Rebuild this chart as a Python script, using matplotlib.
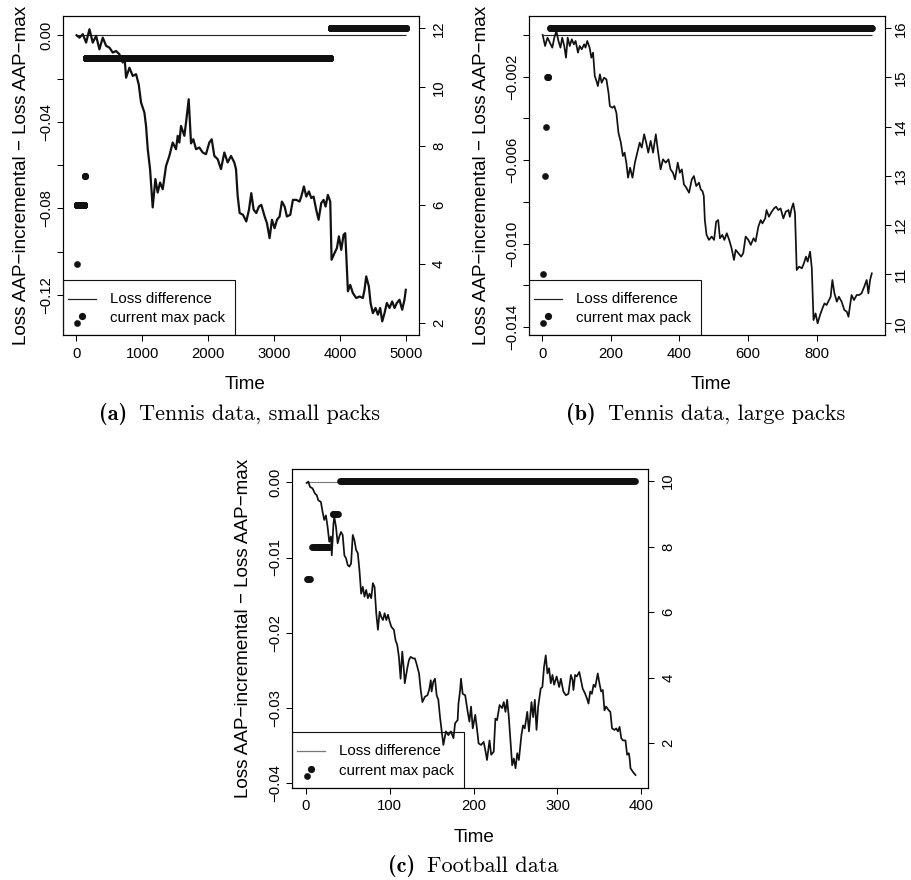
import numpy as np
import matplotlib
matplotlib.use("Agg")
import matplotlib.pyplot as plt
from matplotlib.patches import Rectangle
from matplotlib.lines import Line2D

plt.rcParams['font.family'] = ['Liberation Sans', 'DejaVu Sans']

# ---- (a) tennis data, small packs ----
time_a = [1, 45, 96, 146, 197, 247, 298, 348, 399, 450,
          500, 551, 601, 652, 702, 728, 753, 804, 854, 905,
          945, 980, 1031, 1056, 1082, 1117, 1157, 1198, 1233, 1269,
          1309, 1360, 1410, 1461, 1511, 1537, 1562, 1587, 1638, 1663,
          1704, 1739, 1774, 1815, 1865, 1916, 1966, 2017, 2053, 2093,
          2144, 2194, 2245, 2295, 2346, 2396, 2422, 2447, 2477, 2528,
          2578, 2619, 2654, 2690, 2730, 2770, 2806, 2857, 2892, 2932,
          2968, 3008, 3044, 3084, 3119, 3160, 3195, 3246, 3286, 3337,
          3387, 3413, 3453, 3489, 3529, 3565, 3600, 3640, 3676, 3716,
          3752, 3782, 3817, 3853, 3873, 3918, 3954, 3984, 4020, 4055,
          4080, 4095, 4121, 4156, 4196, 4247, 4298, 4348, 4373, 4399,
          4439, 4465, 4500, 4540, 4576, 4611, 4642, 4677, 4712, 4753,
          4793, 4829, 4864, 4904, 4945, 4980, 5000]
loss_a = [0.0000, -0.0011, 0.0005, -0.0034, 0.0028, -0.0034, -0.0003, -0.0065, -0.0011, -0.0049,
          -0.0057, -0.0080, -0.0073, -0.0088, -0.0126, -0.0096, -0.0196, -0.0150, -0.0188, -0.0180,
          -0.0227, -0.0311, -0.0357, -0.0419, -0.0527, -0.0619, -0.0796, -0.0665, -0.0727, -0.0681,
          -0.0712, -0.0604, -0.0558, -0.0496, -0.0527, -0.0465, -0.0496, -0.0419, -0.0465, -0.0404,
          -0.0296, -0.0500, -0.0481, -0.0527, -0.0519, -0.0542, -0.0550, -0.0496, -0.0481, -0.0558,
          -0.0573, -0.0619, -0.0542, -0.0588, -0.0558, -0.0588, -0.0619, -0.0742, -0.0822, -0.0830,
          -0.0861, -0.0807, -0.0730, -0.0807, -0.0822, -0.0792, -0.0784, -0.0838, -0.0869, -0.0938,
          -0.0853, -0.0892, -0.0853, -0.0838, -0.0769, -0.0792, -0.0838, -0.0830, -0.0761, -0.0761,
          -0.0769, -0.0746, -0.0699, -0.0746, -0.0722, -0.0753, -0.0746, -0.0807, -0.0853, -0.0776,
          -0.0761, -0.0792, -0.0738, -0.0769, -0.1038, -0.1007, -0.0984, -0.0930, -0.0992, -0.0923,
          -0.0915, -0.1007, -0.1184, -0.1154, -0.1192, -0.1215, -0.1208, -0.1215, -0.1177, -0.1115,
          -0.1161, -0.1238, -0.1285, -0.1261, -0.1292, -0.1261, -0.1323, -0.1285, -0.1238, -0.1261,
          -0.1231, -0.1261, -0.1238, -0.1223, -0.1269, -0.1223, -0.1177]
# runs of the current max pack: first step, last step, pack
pack_from_a = [1, 3, 5, 125, 140, 3860]
pack_to_a = [1, 3, 120, 128, 3850, 5000]
pack_a = [2, 4, 6, 7, 11, 12]

# ---- (b) tennis data, large packs ----
time_b = [1, 8, 15, 22, 29, 35, 41, 47, 53, 58,
          64, 69, 74, 80, 86, 92, 97, 104, 109, 115,
          122, 126, 131, 138, 143, 148, 153, 158, 162, 168,
          173, 180, 187, 193, 197, 204, 210, 216, 222, 229,
          235, 240, 245, 250, 256, 263, 270, 277, 284, 290,
          297, 303, 309, 316, 323, 331, 338, 345, 352, 360,
          368, 374, 381, 387, 395, 401, 407, 413, 420, 428,
          436, 442, 449, 457, 462, 467, 471, 474, 479, 486,
          494, 501, 507, 513, 518, 525, 531, 538, 545, 552,
          559, 564, 572, 580, 586, 593, 601, 608, 616, 622,
          630, 637, 642, 650, 654, 661, 669, 676, 682, 688,
          695, 703, 710, 718, 722, 727, 732, 737, 742, 749,
          757, 763, 769, 774, 781, 786, 791, 797, 803, 810,
          817, 823, 829, 836, 841, 846, 852, 859, 865, 873,
          881, 888, 893, 897, 902, 909, 917, 924, 931, 939,
          946, 951, 956, 961]
loss_b = [0.0, -0.00053, -0.00013, -0.00037, -0.00061, -0.00013, 0.00019, -0.00029, -0.00061, -0.00013,
          -0.00053, -0.00109, -0.00013, -0.00053, -0.00021, -0.00045, -0.00029, -0.00085, -0.00053, -0.00069,
          -0.00045, -0.00061, -0.00029, -0.00061, -0.00109, -0.00085, -0.00197, -0.00221, -0.00245, -0.00189,
          -0.00229, -0.00205, -0.00213, -0.00277, -0.00341, -0.00349, -0.00341, -0.00373, -0.00468, -0.00516,
          -0.00580, -0.00564, -0.00612, -0.00684, -0.00636, -0.00684, -0.00612, -0.00564, -0.00516, -0.00540,
          -0.00476, -0.00516, -0.00564, -0.00508, -0.00564, -0.00476, -0.00564, -0.00644, -0.00596, -0.00612,
          -0.00596, -0.00644, -0.00660, -0.00692, -0.00612, -0.00660, -0.00644, -0.00716, -0.00732, -0.00756,
          -0.00692, -0.00676, -0.00724, -0.00708, -0.00740, -0.00748, -0.00772, -0.00887, -0.00958, -0.00982,
          -0.00966, -0.00982, -0.00895, -0.00887, -0.00974, -0.00958, -0.00982, -0.00950, -0.00982, -0.01022,
          -0.01078, -0.01030, -0.01046, -0.01062, -0.01046, -0.00966, -0.00982, -0.01006, -0.00974, -0.00990,
          -0.00919, -0.00887, -0.00903, -0.00879, -0.00839, -0.00871, -0.00847, -0.00831, -0.00823, -0.00839,
          -0.00831, -0.00879, -0.00847, -0.00839, -0.00871, -0.00831, -0.00807, -0.00855, -0.01126, -0.01110,
          -0.01118, -0.01094, -0.01062, -0.01086, -0.01038, -0.01118, -0.01366, -0.01334, -0.01382, -0.01342,
          -0.01310, -0.01286, -0.01294, -0.01270, -0.01254, -0.01174, -0.01238, -0.01278, -0.01254, -0.01278,
          -0.01318, -0.01326, -0.01350, -0.01302, -0.01246, -0.01270, -0.01246, -0.01246, -0.01238, -0.01206,
          -0.01174, -0.01238, -0.01174, -0.01142]
pack_from_b = [1, 3, 7, 12, 15, 22]
pack_to_b = [1, 3, 7, 12, 18, 961]
pack_b = [10, 11, 13, 14, 15, 16]

# ---- (c) football data ----
time_c = [1, 3, 5, 8, 11, 13, 15, 18, 20, 22,
          24, 26, 28, 30, 31, 33, 34, 36, 38, 40,
          42, 44, 46, 48, 50, 52, 54, 56, 58, 60,
          62, 64, 66, 68, 70, 72, 74, 76, 78, 80,
          82, 84, 86, 88, 90, 92, 94, 96, 98, 100,
          102, 105, 107, 109, 111, 113, 115, 117, 118, 121,
          123, 125, 128, 130, 132, 134, 135, 137, 139, 142,
          145, 147, 149, 150, 152, 154, 156, 158, 160, 164,
          167, 170, 173, 176, 178, 181, 182, 184, 185, 187,
          190, 193, 195, 197, 199, 202, 204, 206, 209, 212,
          214, 216, 219, 221, 224, 226, 228, 231, 234, 236,
          238, 240, 242, 244, 246, 248, 250, 252, 254, 257,
          259, 261, 264, 266, 269, 271, 273, 275, 277, 280,
          282, 284, 286, 288, 290, 292, 294, 296, 299, 302,
          304, 307, 310, 313, 316, 318, 319, 321, 323, 326,
          328, 330, 333, 335, 337, 339, 341, 343, 345, 348,
          350, 352, 354, 356, 358, 361, 363, 365, 368, 370,
          372, 374, 376, 378, 381, 383, 385, 386, 387, 390,
          393]
loss_c = [-0.0001, 0.0001, -0.0006, -0.0008, -0.0015, -0.0017, -0.0024, -0.0026, -0.0039, -0.0050,
          -0.0044, -0.0059, -0.0079, -0.0072, -0.0097, -0.0055, -0.0046, -0.0059, -0.0081, -0.0072,
          -0.0066, -0.0070, -0.0097, -0.0101, -0.0110, -0.0112, -0.0108, -0.0070, -0.0077, -0.0090,
          -0.0094, -0.0117, -0.0148, -0.0139, -0.0152, -0.0143, -0.0154, -0.0148, -0.0154, -0.0134,
          -0.0139, -0.0174, -0.0196, -0.0172, -0.0179, -0.0183, -0.0174, -0.0183, -0.0176, -0.0185,
          -0.0192, -0.0196, -0.0210, -0.0216, -0.0232, -0.0261, -0.0225, -0.0250, -0.0267, -0.0247,
          -0.0236, -0.0232, -0.0234, -0.0234, -0.0241, -0.0250, -0.0254, -0.0276, -0.0292, -0.0285,
          -0.0283, -0.0276, -0.0263, -0.0278, -0.0265, -0.0261, -0.0283, -0.0289, -0.0312, -0.0349,
          -0.0331, -0.0336, -0.0331, -0.0340, -0.0320, -0.0316, -0.0294, -0.0276, -0.0261, -0.0281,
          -0.0283, -0.0305, -0.0318, -0.0298, -0.0327, -0.0309, -0.0327, -0.0347, -0.0349, -0.0345,
          -0.0356, -0.0369, -0.0343, -0.0362, -0.0358, -0.0314, -0.0316, -0.0296, -0.0300, -0.0292,
          -0.0305, -0.0289, -0.0312, -0.0343, -0.0376, -0.0367, -0.0380, -0.0360, -0.0369, -0.0336,
          -0.0323, -0.0327, -0.0305, -0.0331, -0.0292, -0.0312, -0.0289, -0.0329, -0.0298, -0.0274,
          -0.0272, -0.0245, -0.0230, -0.0254, -0.0247, -0.0267, -0.0256, -0.0269, -0.0258, -0.0272,
          -0.0261, -0.0278, -0.0283, -0.0281, -0.0256, -0.0263, -0.0276, -0.0256, -0.0258, -0.0252,
          -0.0263, -0.0274, -0.0281, -0.0287, -0.0294, -0.0278, -0.0281, -0.0269, -0.0272, -0.0254,
          -0.0267, -0.0278, -0.0276, -0.0303, -0.0298, -0.0303, -0.0305, -0.0327, -0.0329, -0.0327,
          -0.0331, -0.0325, -0.0340, -0.0343, -0.0343, -0.0362, -0.0360, -0.0367, -0.0380, -0.0385,
          -0.0389]
pack_from_c = [1, 2, 8, 32, 41]
pack_to_c = [1, 5, 28, 38, 392]
pack_c = [1, 7, 8, 9, 10]

fig = plt.figure(figsize=(9.11, 8.80), dpi=100)

INK = '#111111'
TICK_FS = 10.7
LAB_FS = 13.6
CAP_FS = 16


def draw_panel(rect, t, loss, run_from, run_to, run_pack, xlim, ylim, ylim2,
               xticks, yticks, ylabels, rticks, ylab_x, rpad, zero_col, lw):
    ax = fig.add_axes(rect)
    ax.hlines(0, t[0], t[-1], color=zero_col, lw=0.8, zorder=2)
    ax.plot(t, loss, color=INK, lw=lw, zorder=3)
    ax.set_xlim(xlim)
    ax.set_ylim(ylim)
    ax.set_xticks(xticks)
    ax.set_yticks(yticks)
    ax.set_yticklabels(ylabels, rotation=90, va='center')
    ax.tick_params(direction='out', length=4.3, width=0.75, labelsize=TICK_FS, pad=4)
    ax.tick_params(axis='y', pad=3)
    ax.text(ylab_x, 0.5, 'Loss AAP\u2212incremental \u2212 Loss AAP\u2212max',
            transform=ax.transAxes, rotation=90, ha='center', va='center', fontsize=LAB_FS)
    ax.text(0.51, -0.155, 'Time', transform=ax.transAxes, ha='center', va='center',
            fontsize=LAB_FS)

    ax2 = ax.twinx()
    for a, b, p in zip(run_from, run_to, run_pack):
        steps = np.arange(a, b + 1)
        ax2.plot(steps, np.full(len(steps), p), 'o', color=INK, ms=4.5, mew=0.3,
                 mec=INK, zorder=4)
    ax2.set_ylim(ylim2)
    ax2.set_yticks(rticks)
    ax2.set_yticklabels([str(r) for r in rticks], rotation=90, va='center')
    ax2.tick_params(direction='out', length=4.3, width=0.75, labelsize=TICK_FS, pad=rpad)
    for a in (ax, ax2):
        for s in a.spines.values():
            s.set_linewidth(0.8)

    # legend box in the lower left corner
    tr = ax2.transAxes
    ax2.add_patch(Rectangle((0, 0), 0.482, 0.174, transform=tr, fill=False,
                            lw=0.8, ec=INK, zorder=6))
    ax2.add_line(Line2D([0.013, 0.092], [0.114, 0.114], transform=tr,
                        color=zero_col, lw=0.9, zorder=6))
    ax2.plot([0.052], [0.059], 'o', transform=tr, color=INK, ms=5.2, mew=0, zorder=6)
    ax2.text(0.131, 0.114, 'Loss difference', transform=tr, va='center', fontsize=10.8)
    ax2.text(0.131, 0.053, 'current max pack', transform=tr, va='center', fontsize=10.8)
    return ax, ax2


def caption(cx, y, tag, words):
    # bold tag followed by roman text, the pair centred on cx
    t1 = fig.text(0, y, tag, family='cmb10', fontsize=CAP_FS, va='baseline')
    t2 = fig.text(0, y, words, family='cmr10', fontsize=CAP_FS, va='baseline')
    r = fig.canvas.get_renderer()
    w1 = t1.get_window_extent(r).width / fig.bbox.width
    w2 = t2.get_window_extent(r).width / fig.bbox.width
    gap = 12 / fig.bbox.width
    x0 = cx - (w1 + gap + w2) / 2
    t1.set_x(x0)
    t2.set_x(x0 + w1 + gap)


draw_panel([0.0695, 0.6193, 0.3904, 0.3625], time_a, loss_a,
           pack_from_a, pack_to_a, pack_a,
           (-200, 5200), (-0.1386, 0.0089), (1.60, 12.42),
           [0, 1000, 2000, 3000, 4000, 5000],
           [0.0, -0.02, -0.04, -0.06, -0.08, -0.10, -0.12],
           ['0.00', '', '\u22120.04', '', '\u22120.08', '', '\u22120.12'],
           [2, 4, 6, 8, 10, 12], -0.118, 5, '#222222', 1.6)

draw_panel([0.5807, 0.6193, 0.3911, 0.3625], time_b, loss_b,
           pack_from_b, pack_to_b, pack_b,
           (-38.8, 1000.4), (-0.014376, 0.000905), (9.76, 16.25),
           [0, 200, 400, 600, 800],
           [0.0, -0.002, -0.004, -0.006, -0.008, -0.010, -0.012, -0.014],
           ['', '\u22120.002', '', '\u22120.006', '', '\u22120.010', '', '\u22120.014'],
           [10, 11, 12, 13, 14, 15, 16], -0.133, 2, '#222222', 1.25)

draw_panel([0.3209, 0.1049, 0.3908, 0.3625], time_c, loss_c,
           pack_from_c, pack_to_c, pack_c,
           (-16.0, 408.3), (-0.04058, 0.00181), (0.646, 10.375),
           [0, 100, 200, 300, 400],
           [0.0, -0.01, -0.02, -0.03, -0.04],
           ['0.00', '\u22120.01', '\u22120.02', '\u22120.03', '\u22120.04'],
           [2, 4, 6, 8, 10], -0.138, 5, '#777777', 1.25)

caption(0.2629, 0.523, '(a)', 'Tennis data, small packs')
caption(0.7744, 0.523, '(b)', 'Tennis data, large packs')
caption(0.5196, 0.0094, '(c)', 'Football data')

fig.savefig('out.png', dpi=100)
